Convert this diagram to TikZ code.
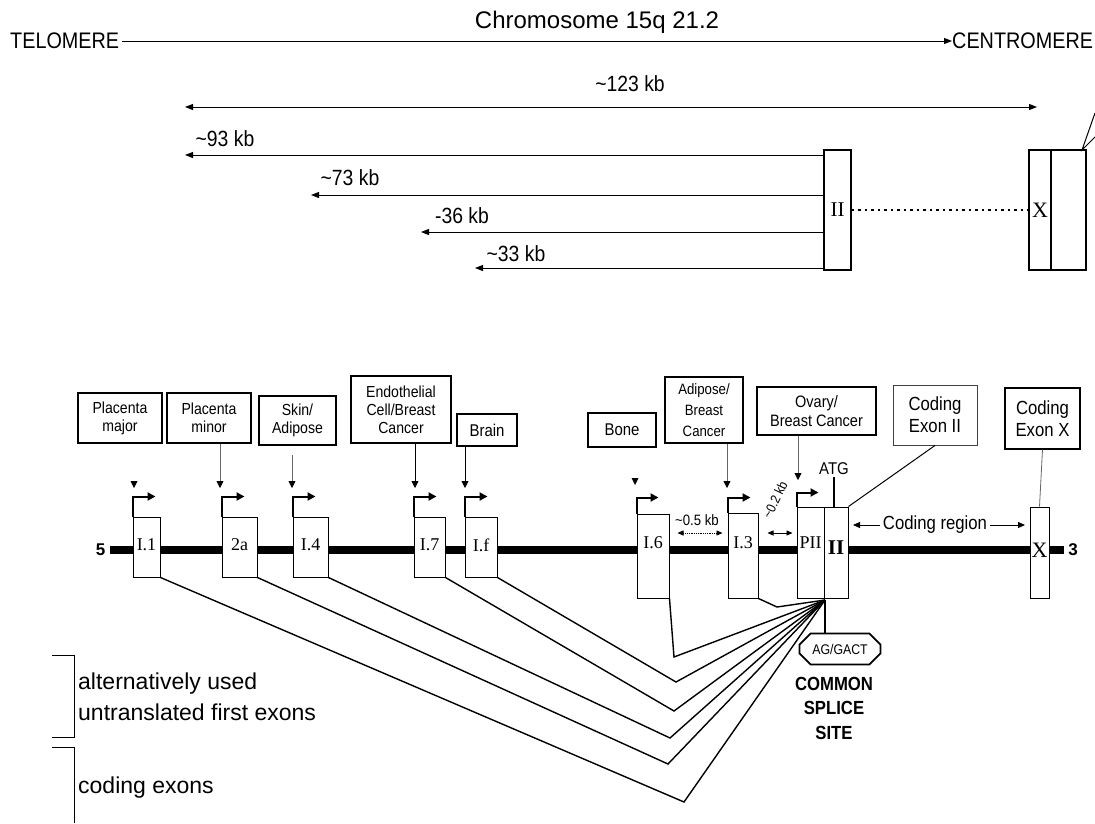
\documentclass[tikz,border=0pt]{standalone}
\usepackage{fontspec}
\setmainfont{Liberation Sans}
\newfontfamily\nar{Liberation Sans}[FakeStretch=0.88]
\newfontfamily\ser{Liberation Serif}
\usetikzlibrary{arrows.meta,shapes.misc}
\begin{document}
\begin{tikzpicture}[x=1pt,y=-1pt,
  lbox/.style={draw, line width=1.7pt, inner sep=0pt, align=center},
  ebox/.style={draw, line width=1pt, fill=white, inner sep=0pt},
  elab/.style={font=\ser\fontsize{18}{18}\selectfont, inner sep=0pt},
  kbl/.style={font=\nar\fontsize{22}{22}\selectfont, inner sep=0pt},
  arr/.style={line width=1pt, -{Triangle[length=8pt,width=6pt]}},
  darr/.style={line width=1pt, {Triangle[length=8pt,width=6pt]}-{Triangle[length=8pt,width=6pt]}},
  sdarr/.style={line width=0.8pt, {Triangle[length=6pt,width=5pt]}-{Triangle[length=6pt,width=5pt]}},
  ptr/.style={draw=black!60, line width=0.8pt, -{Triangle[length=7pt,width=7pt,color=black]}},
  prom/.style={line width=2pt, -{Triangle[length=8pt,width=8pt]}},
  spl/.style={line width=1.4pt},
  tmark/.style={fill=black}
]
\useasboundingbox (0,0) rectangle (1095,823);

% ---------- upper part ----------
\node[font=\fontsize{24}{24}\selectfont, inner sep=0pt] (title) at (597,22) {Chromosome 15q 21.2};
\node[anchor=west, font=\nar\fontsize{22.5}{22.5}\selectfont, inner sep=0pt] (tel) at (10,41) {TELOMERE};
\node[anchor=west, font=\nar\fontsize{22.5}{22.5}\selectfont, inner sep=0pt] (cen) at (952,41) {CENTROMERE};
\draw[arr] ([xshift=3pt]tel.east) -- (cen.west);

\node[kbl] (l123) at (630,84) {\textasciitilde123 kb};
\coordinate (a123l) at (185,107);
\coordinate (a123r) at (1037,107);
\draw[darr] (a123l) -- (a123r);

\node[draw, line width=1.2pt, minimum width=27pt, minimum height=120pt, inner sep=0pt,
      font=\ser\fontsize{21}{21}\selectfont] (uII) at (837.5,210) {II};
\node[draw, line width=1.2pt, minimum width=22pt, minimum height=120pt, inner sep=0pt,
      font=\ser\fontsize{22}{22}\selectfont] (uX) at (1040,210) {X};
\node[draw, line width=1.2pt, minimum width=35pt, minimum height=120pt, inner sep=0pt] (uX2) at (1068.5,210) {};
\coordinate (ucor) at (1082,150);
\coordinate (ue1) at (1095,113);
\coordinate (ue2) at (1095,137);
\draw[line width=1pt] (ue1) -- (ucor) -- (ue2);
\draw[line width=2.2pt, dash pattern=on 2.5pt off 4pt] (uII.east) -- (uX.west);

\node[kbl] (l93) at (225,139) {\textasciitilde93 kb};
\node[kbl] (l73) at (350,178) {\textasciitilde73 kb};
\node[kbl] (l36) at (462,216) {-36 kb};
\node[kbl] (l33) at (516,254) {\textasciitilde33 kb};
\coordinate (t93) at (185,155);
\coordinate (t73) at (311,195);
\coordinate (t36) at (421,232);
\coordinate (t33) at (475,268);
\draw[arr] (uII.west |- t93) -- (t93);
\draw[arr] (uII.west |- t73) -- (t73);
\draw[arr] (uII.west |- t36) -- (t36);
\draw[arr] (uII.west |- t33) -- (t33);

% ---------- label boxes ----------
\node[lbox, minimum width=84pt, minimum height=50pt, font=\nar\fontsize{16}{18}\selectfont] (pmaj) at (120,418) {Placenta\\major};
\node[lbox, minimum width=84pt, minimum height=50pt, font=\nar\fontsize{16}{18}\selectfont] (pmin) at (209,418) {Placenta\\minor};
\node[lbox, minimum width=77pt, minimum height=49pt, font=\nar\fontsize{16}{18}\selectfont] (skin) at (297.5,420.5) {Skin/\\Adipose};
\node[lbox, minimum width=100pt, minimum height=67pt, font=\nar\fontsize{16}{18}\selectfont] (endo) at (401,409.5) {Endothelial\\Cell/Breast\\Cancer};
\node[lbox, minimum width=60pt, minimum height=32pt, font=\nar\fontsize{17}{18}\selectfont] (brain) at (487,430) {Brain};
\node[lbox, minimum width=68pt, minimum height=34pt, font=\nar\fontsize{17}{18}\selectfont] (bone) at (622,430) {Bone};
\node[lbox, minimum width=78pt, minimum height=66pt, font=\nar\fontsize{15}{21}\selectfont] (adbc) at (704,410) {Adipose/\\Breast\\Cancer};
\node[lbox, minimum width=119pt, minimum height=48pt, font=\nar\fontsize{16.5}{19}\selectfont] (ovary) at (816.5,411) {Ovary/\\Breast Cancer};
\node[lbox, line width=0.9pt, draw=black!75, minimum width=84pt, minimum height=60pt, font=\nar\fontsize{19}{22}\selectfont] (cex2) at (935,415) {Coding\\Exon II};
\node[lbox, line width=1.2pt, minimum width=75pt, minimum height=61pt, font=\nar\fontsize{19}{22}\selectfont] (cexX) at (1042.5,418.5) {Coding\\Exon X};

% ---------- gene line ----------
\node[font=\bfseries\fontsize{17}{17}\selectfont, inner sep=0pt] (five) at (100.5,550) {5};
\node[font=\bfseries\fontsize{17}{17}\selectfont, inner sep=0pt] (three) at (1073,550) {3};
\draw[line width=7.5pt] ([xshift=5pt]five.east) -- ([xshift=-4pt]three.west);

% ---------- exon boxes ----------
\node[ebox, minimum width=27pt, minimum height=60pt] (eI1) at (146.5,547) {};
\node[ebox, minimum width=35pt, minimum height=60pt] (e2a) at (239.5,547) {};
\node[ebox, minimum width=35pt, minimum height=60pt] (eI4) at (310.5,547) {};
\node[ebox, minimum width=31pt, minimum height=60pt] (eI7) at (429.5,547) {};
\node[ebox, minimum width=32pt, minimum height=60pt] (eIf) at (481,547) {};
\node[ebox, minimum width=32pt, minimum height=84pt] (eI6) at (653,556) {};
\node[ebox, minimum width=30pt, minimum height=85pt] (eI3) at (743,555.5) {};
\node[ebox, minimum width=27pt, minimum height=91pt] (ePII) at (810.5,552.5) {};
\node[ebox, minimum width=24pt, minimum height=91pt] (eII) at (836,552.5) {};
\node[ebox, minimum width=19pt, minimum height=91pt] (eX) at (1039.5,552.5) {};

\node[elab] (xI1) at (146.5,545) {I.1};
\node[elab] (x2a) at (239.5,545) {2a};
\node[elab] (xI4) at (310.5,545) {I.4};
\node[elab] (xI7) at (429.5,545) {I.7};
\node[elab] (xIf) at (481,545) {I.f};
\node[elab] (xI6) at (653,543) {I.6};
\node[elab] (xI3) at (743,543) {I.3};
\node[elab] (xPII) at (810.5,543) {PII};
\node[font=\ser\bfseries\fontsize{21}{21}\selectfont, inner sep=0pt] (xII) at (836,548) {II};
\node[font=\ser\fontsize{22}{22}\selectfont, inner sep=0pt] (xX) at (1039.5,550) {X};

% ---------- promoter arrows ----------
\draw[prom] (eI1.north west) -- ++(0,-20) -- ++(23,0);
\draw[prom] (e2a.north west) -- ++(0,-20) -- ++(23,0);
\draw[prom] (eI4.north west) -- ++(0,-20) -- ++(23,0);
\draw[prom] (eI7.north west) -- ++(0,-20) -- ++(23,0);
\draw[prom] (eIf.north west) -- ++(0,-20) -- ++(23,0);
\draw[prom] (eI6.north west) -- ++(0,-16) -- ++(22,0);
\draw[prom] (eI3.north west) -- ++(0,-15) -- ++(23,0);
\draw[prom] (ePII.north west) -- ++(0,-14) -- ++(22,0);

% ---------- tissue pointers ----------
\coordinate (t2a) at (220,488);
\coordinate (tI4) at (292,488);
\coordinate (sI4) at (292,455);
\coordinate (tI7) at (415,488);
\coordinate (tIf) at (465,488);
\coordinate (tI3) at (727,488);
\coordinate (tPII) at (798,480);
\draw[ptr] (t2a |- pmin.south) -- (t2a);
\draw[ptr] (sI4) -- (tI4);
\draw[ptr, draw=black] (tI7 |- endo.south) -- (tI7);
\draw[ptr, draw=black] (tIf |- brain.south) -- (tIf);
\draw[ptr] (tI3 |- adbc.south) -- (tI3);
\draw[ptr] (tPII |- ovary.south) -- (tPII);
\coordinate (mI1) at (134,488);
\coordinate (mI6) at (635,485);
\fill[tmark] ([shift={(-3.5,-7)}]mI1) -- ([shift={(3.5,-7)}]mI1) -- (mI1) -- cycle;
\fill[tmark] ([shift={(-3.5,-7)}]mI6) -- ([shift={(3.5,-7)}]mI6) -- (mI6) -- cycle;

\draw[draw=black!60, line width=0.8pt] (cexX.south) -- (eX.north);
\draw[line width=1pt] (cex2.south) -- (eII.north east);

\node[font=\nar\fontsize{17}{17}\selectfont, inner sep=0pt] (atg) at (834,469) {ATG};
\draw[line width=1.3pt] ([yshift=-2pt]atg.south) -- (atg.south |- eII.north);

\node[font=\nar\fontsize{19}{19}\selectfont, inner sep=0pt] (creg) at (935,525) {Coding region};
\coordinate (crl) at (853,525);
\coordinate (crr) at (1025,525);
\draw[line width=0.8pt, -{Triangle[length=7pt,width=6pt]}] ([xshift=-3pt]creg.west) -- (crl);
\draw[line width=0.8pt, -{Triangle[length=7pt,width=6pt]}] ([xshift=3pt]creg.east) -- (crr);

\coordinate (y533) at (0,533);
\node[font=\nar\fontsize{15}{15}\selectfont, inner sep=0pt] (kb05) at (697,520) {\textasciitilde0.5 kb};
\draw[sdarr, densely dotted] ([xshift=8pt]eI6.east |- y533) -- ([xshift=-5pt]eI3.west |- y533);
\node[font=\nar\fontsize{13.5}{13.5}\selectfont, inner sep=0pt, rotate=64] (kb02) at (775,500) {\textasciitilde0.2 kb};
\draw[sdarr] ([xshift=9pt]eI3.east |- y533) -- ([xshift=-4pt]ePII.west |- y533);

% ---------- splicing ----------
\coordinate (sp) at (825,600);
\coordinate (v1) at (674,657);
\coordinate (v2) at (676,682);
\coordinate (v3) at (674,711);
\coordinate (v4) at (670,738);
\coordinate (v5) at (668,764);
\coordinate (v6) at (684,802);
\coordinate (v7) at (777,607);
\draw[spl] (eI6.south east) -- (v1) -- (sp);
\draw[spl] (eIf.south east) -- (v2) -- (sp);
\draw[spl] (eI7.south east) -- (v3) -- (sp);
\draw[spl] (eI4.south east) -- (v4) -- (sp);
\draw[spl] (e2a.south east) -- (v5) -- (sp);
\draw[spl] (eI1.south east) -- (v6) -- (sp);
\draw[spl] (eI3.south east) -- (v7) -- (sp);

\node[chamfered rectangle, chamfered rectangle xsep=6pt, chamfered rectangle ysep=6pt, draw, line width=1.7pt,
      minimum width=81pt, minimum height=31pt, inner sep=0pt,
      font=\nar\fontsize{14}{14}\selectfont] (agc) at (840,649) {AG/GACT};
\draw[spl] (sp) -- (sp |- agc.north);
\node[align=center, inner sep=0pt, font=\nar\bfseries\fontsize{19}{24.5}\selectfont] (css) at (834,708) {COMMON\\SPLICE\\SITE};

% ---------- legend ----------
\draw[line width=1pt] (52,655) -- (74,655) -- (74,737) -- (52,737);
\draw[line width=1pt] (52,747) -- (74,747) -- (74,823);
\node[anchor=west, align=left, inner sep=0pt, font=\fontsize{23}{31}\selectfont] (leg1) at (78,697) {alternatively used\\untranslated first exons};
\node[anchor=west, inner sep=0pt, font=\fontsize{23}{23}\selectfont] (leg2) at (78,788) {coding exons};
\end{tikzpicture}
\end{document}
